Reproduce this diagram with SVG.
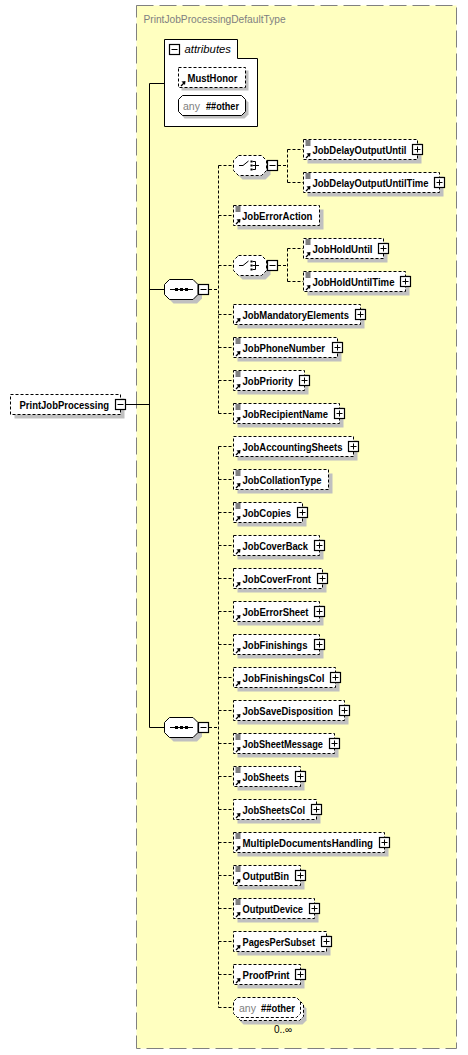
<svg xmlns="http://www.w3.org/2000/svg" width="468" height="1055" viewBox="0 0 468 1055">
<style>
.bg{fill:#ffffc0;stroke:#808080;stroke-width:1;stroke-dasharray:17,6}
.box{fill:#fff;stroke:#000;stroke-width:1;stroke-dasharray:3,2}
.sbox{fill:#fff;stroke:#000;stroke-width:1}
.sh{fill:#c0c0c0}
.pm{fill:#fff;stroke:#000;stroke-width:1.2}
.ln{stroke:#000;stroke-width:1;fill:none}
.cd{stroke:#000;stroke-width:1;fill:none;stroke-dasharray:3,2}
.t{font-family:"Liberation Sans",Arial,sans-serif;font-size:10.2px;font-weight:bold;fill:#000}
.g{font-family:"Liberation Sans",Arial,sans-serif;font-size:10.5px;fill:#808080}
.n{font-family:"Liberation Sans",Arial,sans-serif;font-size:10px;fill:#000}
</style>
<defs>
<g id="doc"><path d="M2,1.5H7M2,3.5H7M2,5.5H7" stroke="#000" stroke-width="1"/></g>
<g id="ref"><path d="M2.5,-1.5L5.5,-4.5" stroke="#000" stroke-width="1.3"/><path d="M7,-6.5L3,-6L6.5,-2.5Z" fill="#000"/></g>
<g id="plus"><rect class="pm" x="0" y="0" width="10" height="10"/><path d="M2,5H8M5,2V8" stroke="#000" stroke-width="1"/></g>
<g id="minus"><rect class="pm" x="0" y="0" width="10" height="10"/><path d="M2,5H8" stroke="#000" stroke-width="1"/></g>
<g id="seqicon"><path d="M-11.5,0H11.5" stroke="#000" stroke-width="1"/><rect x="-6.5" y="-1.5" width="3" height="3" fill="#000"/><rect x="-1.5" y="-1.5" width="3" height="3" fill="#000"/><rect x="3.5" y="-1.5" width="3" height="3" fill="#000"/></g>
<g id="choiceicon"><path d="M-11,0H-7L-1.5,-4.5" stroke="#000" stroke-width="1" fill="none"/><rect x="0.5" y="-5" width="2" height="2" fill="#000"/><rect x="0.5" y="-1" width="2" height="2" fill="#000"/><rect x="0.5" y="3" width="2" height="2" fill="#000"/><path d="M2.5,-4H5.5V4H2.5M2.5,0H9" stroke="#000" stroke-width="1" fill="none"/></g>
</defs>

<rect class="bg" x="136.5" y="5.5" width="320" height="1043"/>
<text x="143.5" y="23" font-family="Liberation Sans, Arial, sans-serif" font-size="10.2" fill="#808080">PrintJobProcessingDefaultType</text>

<g id="connectors">
<path class="ln" d="M149.5,83.5V727.5M126,404.5H149.5M149.5,83.5H164.5M149.5,289.5H164.5M149.5,727.5H164.5"/>
<path class="cd" d="M209,289.5H218.5M218.5,165.5V413.5M218.5,165.5H233.5M218.5,215.5H233.5M218.5,265.5H233.5M218.5,314.5H233.5M218.5,347.5H233.5M218.5,380.5H233.5M218.5,413.5H233.5"/>
<path class="cd" d="M278,165.5H287.5M287.5,149.5V182.5M287.5,149.5H303.5M287.5,182.5H303.5"/>
<path class="cd" d="M278,265.5H287.5M287.5,248.5V281.5M287.5,248.5H303.5M287.5,281.5H303.5"/>
<path class="cd" d="M209,727.5H218.5M218.5,446.5V1007.5M218.5,446.5H233.5M218.5,479.5H233.5M218.5,512.5H233.5M218.5,545.5H233.5M218.5,578.5H233.5M218.5,611.5H233.5M218.5,644.5H233.5M218.5,677.5H233.5M218.5,710.5H233.5M218.5,743.5H233.5M218.5,776.5H233.5M218.5,809.5H233.5M218.5,842.5H233.5M218.5,875.5H233.5M218.5,908.5H233.5M218.5,941.5H233.5M218.5,974.5H233.5M218.5,1007.5H233.5"/>
</g>

<g id="PrintJobProcessing">
<rect class="sh" x="14.5" y="398.5" width="110" height="20"/>
<rect class="box" x="10.5" y="394.5" width="110" height="20"/>
<text class="t" x="19.5" y="409" textLength="89.5" lengthAdjust="spacingAndGlyphs">PrintJobProcessing</text>
<use href="#minus" x="115.5" y="399.5"/>
</g>

<g id="attributes">
<path class="sbox" d="M164.5,39.5H237.5V58.5H257.5V126.5H164.5Z"/>
<use href="#minus" x="169.5" y="44.5"/>
<text x="184.5" y="53" font-family="Liberation Sans, Arial, sans-serif" font-size="11.2" font-style="italic" fill="#000" textLength="46.5" lengthAdjust="spacingAndGlyphs">attributes</text>
</g>

<g id="MustHonor">
<rect class="sh" x="181.5" y="70.5" width="67" height="20"/>
<rect class="box" x="178.5" y="67.5" width="67" height="20"/>
<use href="#ref" x="178.5" y="87.5"/>
<text class="t" x="187.5" y="82" textLength="50" lengthAdjust="spacingAndGlyphs">MustHonor</text>
</g>

<g id="attrAny">
<path class="sh" d="M184.5,98.5H244.5L248.5,102.5V114.5L244.5,118.5H184.5L181.5,114.5V102.5Z"/>
<path class="sbox" d="M182.5,95.5H241.5L245.5,99.5V111.5L241.5,115.5H182.5L178.5,111.5V99.5Z"/>
<text class="g" x="183" y="110" textLength="17" lengthAdjust="spacingAndGlyphs">any</text>
<text class="t" x="206" y="110" textLength="33" lengthAdjust="spacingAndGlyphs">##other</text>
</g>

<g id="sequence1">
<path class="sh" d="M173.5,283.5H197L202,288.5V298.5L197,303.5H173.5L168.5,298.5V288.5Z"/>
<path class="sbox" d="M169.5,279.5H193L198,284.5V294.5L193,299.5H169.5L164.5,294.5V284.5Z"/>
<use href="#seqicon" x="181.5" y="289.5"/>
<use href="#minus" x="198.5" y="284.5"/>
</g>

<g id="choice1">
<path class="sh" d="M242.5,159.5H265.5L270.5,164.5V174.5L265.5,179.5H242.5L237.5,174.5V164.5Z"/>
<path class="box" d="M238.5,155.5H261.5L266.5,160.5V170.5L261.5,175.5H238.5L233.5,170.5V160.5Z"/>
<use href="#choiceicon" x="250" y="165.5"/>
<use href="#minus" x="267.5" y="160.5"/>
</g>

<g id="choice2">
<path class="sh" d="M242.5,259.5H265.5L270.5,264.5V274.5L265.5,279.5H242.5L237.5,274.5V264.5Z"/>
<path class="box" d="M238.5,255.5H261.5L266.5,260.5V270.5L261.5,275.5H238.5L233.5,270.5V260.5Z"/>
<use href="#choiceicon" x="250" y="265.5"/>
<use href="#minus" x="267.5" y="260.5"/>
</g>

<g id="sequence2">
<path class="sh" d="M173.5,721.5H197L202,726.5V736.5L197,741.5H173.5L168.5,736.5V726.5Z"/>
<path class="sbox" d="M169.5,717.5H193L198,722.5V732.5L193,737.5H169.5L164.5,732.5V722.5Z"/>
<use href="#seqicon" x="181.5" y="727.5"/>
<use href="#minus" x="198.5" y="722.5"/>
</g>

<g id="JobDelayOutputUntil">
<rect class="sh" x="307.5" y="143.5" width="114" height="20"/>
<rect class="box" x="303.5" y="139.5" width="114" height="20"/>
<use href="#doc" x="303.5" y="139.5"/><use href="#ref" x="303.5" y="159.5"/>
<text class="t" x="312.5" y="153.5" textLength="94" lengthAdjust="spacingAndGlyphs">JobDelayOutputUntil</text>
<use href="#plus" x="412.5" y="144.5"/>
</g>
<g id="JobDelayOutputUntilTime">
<rect class="sh" x="307.5" y="176.5" width="136" height="20"/>
<rect class="box" x="303.5" y="172.5" width="136" height="20"/>
<use href="#doc" x="303.5" y="172.5"/><use href="#ref" x="303.5" y="192.5"/>
<text class="t" x="312.5" y="186.5" textLength="116" lengthAdjust="spacingAndGlyphs">JobDelayOutputUntilTime</text>
<use href="#plus" x="434.5" y="177.5"/>
</g>
<g id="JobErrorAction">
<rect class="sh" x="237.5" y="209.5" width="86" height="20"/>
<rect class="box" x="233.5" y="205.5" width="86" height="20"/>
<use href="#doc" x="233.5" y="205.5"/><use href="#ref" x="233.5" y="225.5"/>
<text class="t" x="242" y="219.5" textLength="70.5" lengthAdjust="spacingAndGlyphs">JobErrorAction</text>
</g>
<g id="JobHoldUntil">
<rect class="sh" x="307.5" y="242.5" width="80" height="20"/>
<rect class="box" x="303.5" y="238.5" width="80" height="20"/>
<use href="#doc" x="303.5" y="238.5"/><use href="#ref" x="303.5" y="258.5"/>
<text class="t" x="312.5" y="252.5" textLength="60" lengthAdjust="spacingAndGlyphs">JobHoldUntil</text>
<use href="#plus" x="378.5" y="243.5"/>
</g>
<g id="JobHoldUntilTime">
<rect class="sh" x="307.5" y="275.5" width="102" height="20"/>
<rect class="box" x="303.5" y="271.5" width="102" height="20"/>
<use href="#doc" x="303.5" y="271.5"/><use href="#ref" x="303.5" y="291.5"/>
<text class="t" x="312.5" y="285.5" textLength="82" lengthAdjust="spacingAndGlyphs">JobHoldUntilTime</text>
<use href="#plus" x="400.5" y="276.5"/>
</g>
<g id="JobMandatoryElements">
<rect class="sh" x="237.5" y="308.5" width="127" height="20"/>
<rect class="box" x="233.5" y="304.5" width="127" height="20"/>
<use href="#ref" x="233.5" y="324.5"/>
<text class="t" x="242.5" y="318.5" textLength="106.5" lengthAdjust="spacingAndGlyphs">JobMandatoryElements</text>
<use href="#plus" x="355.5" y="309.5"/>
</g>
<g id="JobPhoneNumber">
<rect class="sh" x="237.5" y="341.5" width="104" height="20"/>
<rect class="box" x="233.5" y="337.5" width="104" height="20"/>
<use href="#doc" x="233.5" y="337.5"/><use href="#ref" x="233.5" y="357.5"/>
<text class="t" x="242.5" y="351.5" textLength="82.5" lengthAdjust="spacingAndGlyphs">JobPhoneNumber</text>
<use href="#plus" x="332.5" y="342.5"/>
</g>
<g id="JobPriority">
<rect class="sh" x="237.5" y="374.5" width="71" height="20"/>
<rect class="box" x="233.5" y="370.5" width="71" height="20"/>
<use href="#doc" x="233.5" y="370.5"/><use href="#ref" x="233.5" y="390.5"/>
<text class="t" x="242.5" y="384.5" textLength="50.5" lengthAdjust="spacingAndGlyphs">JobPriority</text>
<use href="#plus" x="299.5" y="375.5"/>
</g>
<g id="JobRecipientName">
<rect class="sh" x="237.5" y="407.5" width="106" height="20"/>
<rect class="box" x="233.5" y="403.5" width="106" height="20"/>
<use href="#doc" x="233.5" y="403.5"/><use href="#ref" x="233.5" y="423.5"/>
<text class="t" x="242.5" y="417.5" textLength="85.5" lengthAdjust="spacingAndGlyphs">JobRecipientName</text>
<use href="#plus" x="334.5" y="408.5"/>
</g>
<g id="JobAccountingSheets">
<rect class="sh" x="237.5" y="440.5" width="120" height="20"/>
<rect class="box" x="233.5" y="436.5" width="120" height="20"/>
<use href="#ref" x="233.5" y="456.5"/>
<text class="t" x="242.5" y="450.5" textLength="100" lengthAdjust="spacingAndGlyphs">JobAccountingSheets</text>
<use href="#plus" x="348.5" y="441.5"/>
</g>
<g id="JobCollationType">
<rect class="sh" x="237.5" y="473.5" width="95" height="20"/>
<rect class="box" x="233.5" y="469.5" width="95" height="20"/>
<use href="#doc" x="233.5" y="469.5"/><use href="#ref" x="233.5" y="489.5"/>
<text class="t" x="242.5" y="483.5" textLength="79" lengthAdjust="spacingAndGlyphs">JobCollationType</text>
</g>
<g id="JobCopies">
<rect class="sh" x="237.5" y="506.5" width="69" height="20"/>
<rect class="box" x="233.5" y="502.5" width="69" height="20"/>
<use href="#doc" x="233.5" y="502.5"/><use href="#ref" x="233.5" y="522.5"/>
<text class="t" x="242.5" y="516.5" textLength="48.5" lengthAdjust="spacingAndGlyphs">JobCopies</text>
<use href="#plus" x="297.5" y="507.5"/>
</g>
<g id="JobCoverBack">
<rect class="sh" x="237.5" y="539.5" width="86" height="20"/>
<rect class="box" x="233.5" y="535.5" width="86" height="20"/>
<use href="#ref" x="233.5" y="555.5"/>
<text class="t" x="242.5" y="549.5" textLength="65.5" lengthAdjust="spacingAndGlyphs">JobCoverBack</text>
<use href="#plus" x="314.5" y="540.5"/>
</g>
<g id="JobCoverFront">
<rect class="sh" x="237.5" y="572.5" width="89" height="20"/>
<rect class="box" x="233.5" y="568.5" width="89" height="20"/>
<use href="#ref" x="233.5" y="588.5"/>
<text class="t" x="242.5" y="582.5" textLength="68.5" lengthAdjust="spacingAndGlyphs">JobCoverFront</text>
<use href="#plus" x="317.5" y="573.5"/>
</g>
<g id="JobErrorSheet">
<rect class="sh" x="237.5" y="605.5" width="86" height="20"/>
<rect class="box" x="233.5" y="601.5" width="86" height="20"/>
<use href="#ref" x="233.5" y="621.5"/>
<text class="t" x="242.5" y="615.5" textLength="66" lengthAdjust="spacingAndGlyphs">JobErrorSheet</text>
<use href="#plus" x="314.5" y="606.5"/>
</g>
<g id="JobFinishings">
<rect class="sh" x="237.5" y="638.5" width="86" height="20"/>
<rect class="box" x="233.5" y="634.5" width="86" height="20"/>
<use href="#ref" x="233.5" y="654.5"/>
<text class="t" x="242.5" y="648.5" textLength="65" lengthAdjust="spacingAndGlyphs">JobFinishings</text>
<use href="#plus" x="314.5" y="639.5"/>
</g>
<g id="JobFinishingsCol">
<rect class="sh" x="237.5" y="671.5" width="102" height="20"/>
<rect class="box" x="233.5" y="667.5" width="102" height="20"/>
<use href="#ref" x="233.5" y="687.5"/>
<text class="t" x="242.5" y="681.5" textLength="82" lengthAdjust="spacingAndGlyphs">JobFinishingsCol</text>
<use href="#plus" x="330.5" y="672.5"/>
</g>
<g id="JobSaveDisposition">
<rect class="sh" x="237.5" y="704.5" width="111" height="20"/>
<rect class="box" x="233.5" y="700.5" width="111" height="20"/>
<use href="#ref" x="233.5" y="720.5"/>
<text class="t" x="242.5" y="714.5" textLength="90.5" lengthAdjust="spacingAndGlyphs">JobSaveDisposition</text>
<use href="#plus" x="339.5" y="705.5"/>
</g>
<g id="JobSheetMessage">
<rect class="sh" x="237.5" y="737.5" width="101" height="20"/>
<rect class="box" x="233.5" y="733.5" width="101" height="20"/>
<use href="#doc" x="233.5" y="733.5"/><use href="#ref" x="233.5" y="753.5"/>
<text class="t" x="242.5" y="747.5" textLength="80.5" lengthAdjust="spacingAndGlyphs">JobSheetMessage</text>
<use href="#plus" x="329.5" y="738.5"/>
</g>
<g id="JobSheets">
<rect class="sh" x="237.5" y="770.5" width="67" height="20"/>
<rect class="box" x="233.5" y="766.5" width="67" height="20"/>
<use href="#doc" x="233.5" y="766.5"/><use href="#ref" x="233.5" y="786.5"/>
<text class="t" x="242.5" y="780.5" textLength="46.5" lengthAdjust="spacingAndGlyphs">JobSheets</text>
<use href="#plus" x="295.5" y="771.5"/>
</g>
<g id="JobSheetsCol">
<rect class="sh" x="237.5" y="803.5" width="83" height="20"/>
<rect class="box" x="233.5" y="799.5" width="83" height="20"/>
<use href="#ref" x="233.5" y="819.5"/>
<text class="t" x="242.5" y="813.5" textLength="62.5" lengthAdjust="spacingAndGlyphs">JobSheetsCol</text>
<use href="#plus" x="311.5" y="804.5"/>
</g>
<g id="MultipleDocumentsHandling">
<rect class="sh" x="237.5" y="836.5" width="151" height="20"/>
<rect class="box" x="233.5" y="832.5" width="151" height="20"/>
<use href="#doc" x="233.5" y="832.5"/><use href="#ref" x="233.5" y="852.5"/>
<text class="t" x="242.5" y="846.5" textLength="130.5" lengthAdjust="spacingAndGlyphs">MultipleDocumentsHandling</text>
<use href="#plus" x="379.5" y="837.5"/>
</g>
<g id="OutputBin">
<rect class="sh" x="237.5" y="869.5" width="67" height="20"/>
<rect class="box" x="233.5" y="865.5" width="67" height="20"/>
<use href="#doc" x="233.5" y="865.5"/><use href="#ref" x="233.5" y="885.5"/>
<text class="t" x="242.5" y="879.5" textLength="46.5" lengthAdjust="spacingAndGlyphs">OutputBin</text>
<use href="#plus" x="295.5" y="870.5"/>
</g>
<g id="OutputDevice">
<rect class="sh" x="237.5" y="902.5" width="81" height="20"/>
<rect class="box" x="233.5" y="898.5" width="81" height="20"/>
<use href="#doc" x="233.5" y="898.5"/><use href="#ref" x="233.5" y="918.5"/>
<text class="t" x="242.5" y="912.5" textLength="60.5" lengthAdjust="spacingAndGlyphs">OutputDevice</text>
<use href="#plus" x="309.5" y="903.5"/>
</g>
<g id="PagesPerSubset">
<rect class="sh" x="237.5" y="935.5" width="93" height="20"/>
<rect class="box" x="233.5" y="931.5" width="93" height="20"/>
<use href="#ref" x="233.5" y="951.5"/>
<text class="t" x="242.5" y="945.5" textLength="72.5" lengthAdjust="spacingAndGlyphs">PagesPerSubset</text>
<use href="#plus" x="321.5" y="936.5"/>
</g>
<g id="ProofPrint">
<rect class="sh" x="237.5" y="968.5" width="67" height="20"/>
<rect class="box" x="233.5" y="964.5" width="67" height="20"/>
<use href="#ref" x="233.5" y="984.5"/>
<text class="t" x="242.5" y="978.5" textLength="47" lengthAdjust="spacingAndGlyphs">ProofPrint</text>
<use href="#plus" x="295.5" y="969.5"/>
</g>
<g id="elementAny">
<path class="sh" d="M243.5,1004.5H302.5L306.5,1008.5V1020.5L302.5,1024.5H243.5L239.5,1020.5V1008.5Z"/>
<path class="box" d="M240.5,1000.5H299.5L303.5,1004.5V1016.5L299.5,1020.5H240.5L236.5,1016.5V1004.5Z"/>
<path class="box" d="M237.5,997.5H296.5L300.5,1001.5V1013.5L296.5,1017.5H237.5L233.5,1013.5V1001.5Z"/>
<text class="g" x="239" y="1011.5" textLength="17" lengthAdjust="spacingAndGlyphs">any</text>
<text class="t" x="261" y="1011.5" textLength="34" lengthAdjust="spacingAndGlyphs">##other</text>
<text class="n" x="274" y="1033">0..∞</text>
</g>
</svg>
